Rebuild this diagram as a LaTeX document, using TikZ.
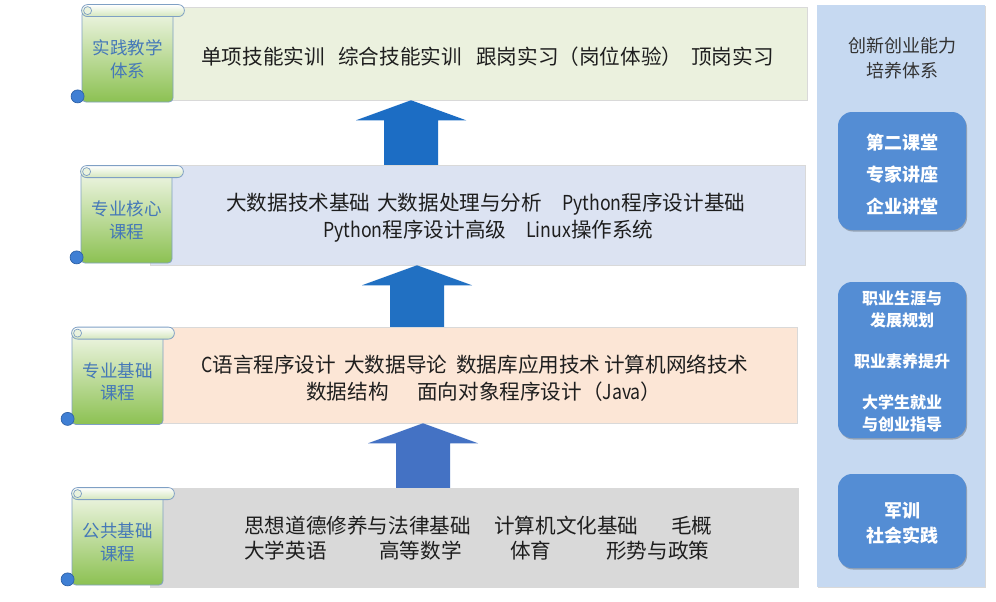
\documentclass[tikz,border=0pt]{standalone}
\usepackage{graphicx}
\usepackage{fontspec}
\setmainfont{Noto Sans CJK SC}
\usetikzlibrary{calc,shadows}
\definecolor{bandA}{HTML}{EBF1DE}
\definecolor{bandB}{HTML}{DCE3F2}
\definecolor{bandC}{HTML}{FCE6D6}
\definecolor{bandD}{HTML}{D9D9D9}
\definecolor{panelcol}{HTML}{C6D9F1}
\definecolor{innercol}{HTML}{548DD4}
\definecolor{arrA}{HTML}{1C6DC4}
\definecolor{arrB}{HTML}{2170C2}
\definecolor{arrC}{HTML}{4472C4}
\definecolor{scrollTxt}{HTML}{4578B8}
\definecolor{scrollEdge}{HTML}{7FA0C4}
\definecolor{scrollTop}{HTML}{EEF5E3}
\definecolor{scrollBot}{HTML}{8CC152}
\definecolor{rollBot}{HTML}{D3E6BC}
\definecolor{rollTop}{HTML}{EAF3DE}
\definecolor{knobcol}{HTML}{3F7FD4}
\definecolor{knobEdge}{HTML}{2E62A8}
\definecolor{titlecol}{HTML}{333333}
\definecolor{itemcol}{HTML}{1E1E1E}
\newcommand\lat[1]{\scalebox{0.86}[1]{#1}}
\newcommand\blockup[4]{%
  \fill[#1] (#2 |- #3.south) -- ++(55,20) -- ++(-28,0)
    -- ($(#2 |- #4.north)+(27,0)$) -- ++(-54,0)
    -- ($(#2 |- #3.south)+(-27,20)$) -- ++(-28,0) -- cycle;}
\newcommand\scrollicon[4]{%
  \node[scrollbody] (#1) at (#2,#3) {};
  \draw[rollbar] ($(#1.north west)+(0,-6)$) rectangle ($(#1.north east)+(11,6)$);
  \draw[curl] ($(#1.north west)+(6,0)$) circle[radius=4pt];
  \draw[knob] ($(#1.south west)+(-4,-6)$) circle[radius=6.5pt];
  \node[scrolltext] (#1t) at ($(#1.center)+(0,3)$) {#4};}
\begin{document}
\begin{tikzpicture}[x=1pt,y=-1pt,
  band/.style={rectangle, inner sep=0pt, draw=black!15, line width=0.5pt,
    drop shadow={shadow xshift=1.2pt,shadow yshift=-1.2pt,opacity=0.18,fill=black}},
  item/.style={inner sep=0pt, anchor=west, text height=15pt, text depth=0pt,
    font=\fontsize{20.6}{24}\selectfont, text=itemcol},
  scrollbody/.style={rectangle, inner sep=0pt, minimum width=91pt, minimum height=91pt,
    rounded corners=4pt, draw=scrollEdge, line width=0.8pt,
    top color=scrollTop, bottom color=scrollBot},
  rollbar/.style={draw=scrollEdge, line width=0.8pt, rounded corners=6pt,
    top color=white, bottom color=rollBot},
  curl/.style={draw=scrollEdge, line width=0.7pt, fill=rollTop},
  knob/.style={draw=knobEdge, line width=0.7pt, fill=knobcol},
  scrolltext/.style={align=center, text=scrollTxt, inner sep=0pt,
    font=\fontsize{17.5}{22.5}\selectfont},
  panelbox/.style={rectangle, inner sep=0pt, fill=panelcol, minimum width=168pt,
    minimum height=582pt,
    drop shadow={shadow xshift=1.2pt,shadow yshift=-1.2pt,opacity=0.15,fill=black}},
  innerbox/.style={rectangle, rounded corners=14pt, inner sep=0pt, fill=innercol,
    minimum width=128pt,
    drop shadow={shadow xshift=1pt,shadow yshift=-1.5pt,opacity=0.25,fill=black}},
  innertext/.style={align=center, text=white, inner sep=0pt},
  paneltitle/.style={align=center, text=titlecol, inner sep=0pt,
    font=\fontsize{18}{25}\selectfont}
]
\useasboundingbox (0,0) rectangle (996,602);
\fill[white] (0,0) rectangle (996,602);

% right panel
\node[panelbox] (panel) at (901,296) {};
\node[innerbox, minimum height=118pt] (ib1) at (902,171) {};
\node[innerbox, minimum height=156pt] (ib2) at (902,360) {};
\node[innerbox, minimum height=94pt] (ib3) at (902,521) {};
\node[paneltitle] (ptitle) at (902,58.5) {创新创业能力\\培养体系};
\node[innertext, font=\bfseries\fontsize{18}{32}\selectfont] (it1) at (902,175)
  {第二课堂\\专家讲座\\企业讲堂};
\node[innertext, font=\bfseries\fontsize{16}{22}\selectfont] (it2) at (902,361)
  {职业生涯与\\发展规划\\[19pt]职业素养提升\\[19pt]大学生就业\\与创业指导};
\node[innertext, font=\bfseries\fontsize{18}{25}\selectfont] (it3) at (902,523.5)
  {军训\\社会实践};

% bands
\node[band, fill=bandA, minimum width=657pt, minimum height=93pt] (b1) at (478.5,53.5) {};
\node[band, fill=bandB, minimum width=655pt, minimum height=100pt] (b2) at (477.5,215) {};
\node[band, fill=bandC, minimum width=647pt, minimum height=96pt] (b3) at (473.5,375) {};
\node[band, fill=bandD, minimum width=648pt, minimum height=99pt] (b4) at (474,537.5) {};

% arrows
\coordinate (ax1) at (411,0);
\coordinate (ax2) at (417,0);
\coordinate (ax3) at (423,0);
\blockup{arrA}{ax1}{b1}{b2}
\blockup{arrB}{ax2}{b2}{b3}
\blockup{arrC}{ax3}{b3}{b4}

% scrolls
\scrollicon{sc1}{127.5}{56.5}{实践教学\\体系}
\scrollicon{sc2}{126.5}{217.5}{专业核心\\课程}
\scrollicon{sc3}{117.5}{379}{专业基础\\课程}
\scrollicon{sc4}{117.5}{539.5}{公共基础\\课程}

% row 1 items
\node[item] (r1a) at (201,57) {单项技能实训};
\node[item] (r1b) at (338,57) {综合技能实训};
\node[item] (r1c) at (476,57) {跟岗实习（岗位体验）};
\node[item] (r1d) at (691,57) {顶岗实习};
% row 2 items
\node[item] (r2a) at (226,203) {大数据技术基础};
\node[item] (r2b) at (377,203) {大数据处理与分析};
\node[item] (r2c) at (562,203) {\lat{Python}程序设计基础};
\node[item] (r2d) at (323,230) {\lat{Python}程序设计高级};
\node[item] (r2e) at (526,230) {\lat{Linux}操作系统};
% row 3 items
\node[item] (r3a) at (201,365) {\lat{C}语言程序设计};
\node[item] (r3b) at (344,365) {大数据导论};
\node[item] (r3c) at (456,365) {数据库应用技术};
\node[item] (r3d) at (604,365) {计算机网络技术};
\node[item] (r3e) at (306,392) {数据结构};
\node[item] (r3f) at (417,392) {面向对象程序设计（\lat{Java}）};
% row 4 items
\node[item] (r4a) at (244,526) {思想道德修养与法律基础};
\node[item] (r4b) at (494,526) {计算机文化基础};
\node[item] (r4c) at (671,526) {毛概};
\node[item] (r4d) at (244,551) {大学英语};
\node[item] (r4e) at (379,551) {高等数学};
\node[item] (r4f) at (510,551) {体育};
\node[item] (r4g) at (606,551) {形势与政策};
\end{tikzpicture}
\end{document}
